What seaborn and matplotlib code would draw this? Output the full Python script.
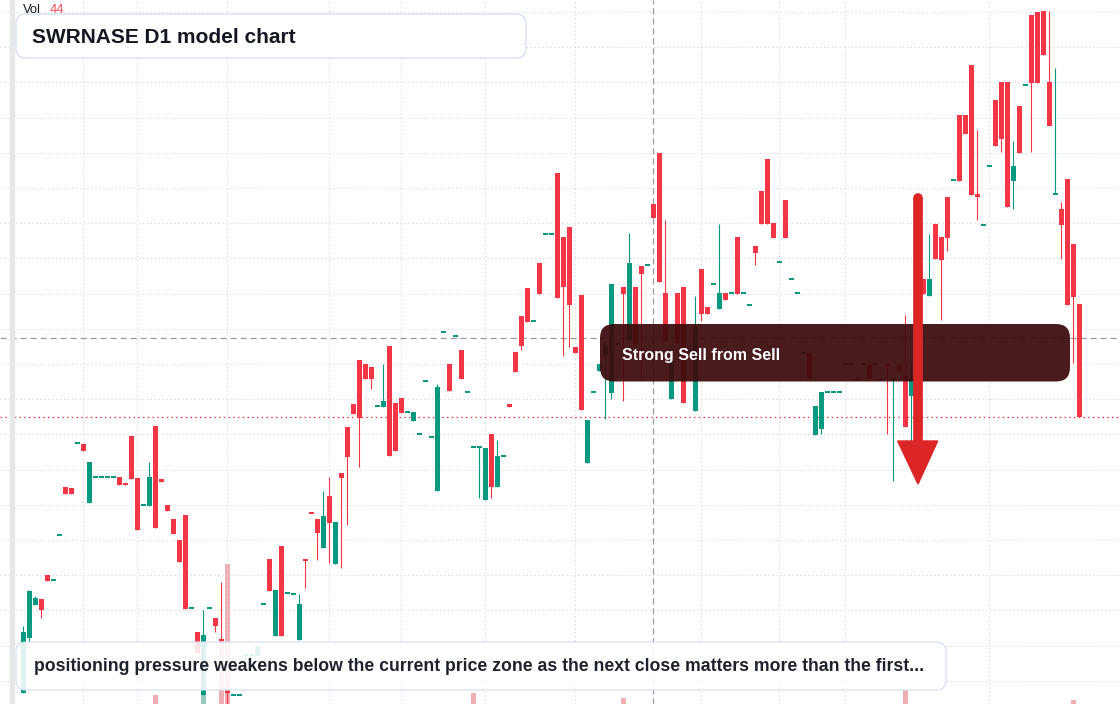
import numpy as np
import pandas as pd
import matplotlib
matplotlib.use("Agg")
import matplotlib.pyplot as plt
from matplotlib.patches import FancyBboxPatch, Polygon, Rectangle
from matplotlib.lines import Line2D
from matplotlib.transforms import IdentityTransform
import seaborn as sns

# daily candles, oldest first (price units)
opens = [10.7, 16.23, 19.53, 20.1, 22.5, 21.97, 26.47, 31.27, 31.2, 35.67,
         35.6, 29.7, 32.27, 32.27, 32.27, 32.27, 32.27, 31.6, 36.4, 32.2,
         29.47, 29.43, 37.4, 32.1, 29.47, 28.1, 26.0, 28.5, 19.17, 16.8,
         10.5, 19.17, 18.2, 16.1, 11.0, 10.5, 10.5, 14.5, 14.5, 14.4,
         19.57, 24.1, 16.43, 25.4, 20.67, 20.57, 16.03, 24.1, 28.7, 28.1,
         25.23, 30.4, 23.63, 32.67, 37.3, 39.6, 44.0, 43.6, 43.3, 39.37,
         39.3, 45.4, 39.7, 40.2, 38.77, 37.9, 36.57, 41.87, 36.27, 30.9,
         46.77, 43.6, 46.37, 45.0, 40.77, 35.27, 35.27, 30.0, 36.6, 31.3,
         34.37, 39.57, 44.8, 48.4, 51.2, 47.87, 53.7, 56.57, 56.57, 62.7,
         56.3, 57.3, 45.3, 50.5, 33.73, 40.77, 42.93, 44.5, 40.7, 45.6,
         51.3, 46.0, 51.3, 53.4, 53.47, 59.6, 64.7, 50.7, 40.13, 50.7,
         51.3, 45.0, 38.93, 53.1, 49.3, 51.57, 49.13, 50.7, 50.67, 56.3,
         50.67, 49.47, 55.4, 60.9, 64.1, 57.7, 53.77, 60.0, 52.07, 50.67,
         44.67, 44.7, 36.5, 37.1, 40.77, 40.77, 40.77, 43.6, 43.6, 42.1,
         43.6, 43.6, 43.6, 42.1, 43.6, 42.1, 43.6, 42.43, 40.43, 52.0,
         52.1, 50.43, 57.6, 56.3, 60.3, 61.97, 68.5, 68.5, 73.5, 60.6,
         57.47, 63.37, 70.0, 71.8, 71.8, 61.93, 69.4, 71.47, 78.5, 78.8,
         78.9, 71.8, 60.6, 59.1, 62.1, 55.6, 49.6]
highs = [17.4, 21.0, 20.4, 20.1, 22.5, 21.97, 26.47, 31.27, 31.2, 35.67,
         35.6, 33.8, 32.27, 32.27, 32.27, 32.27, 32.27, 31.6, 36.4, 32.2,
         29.47, 33.8, 37.4, 32.1, 29.47, 28.1, 26.0, 28.5, 19.17, 16.8,
         19.0, 19.17, 18.2, 21.77, 11.0, 10.5, 10.5, 14.5, 14.5, 15.4,
         19.57, 24.1, 21.0, 25.4, 20.67, 20.57, 20.57, 24.1, 28.7, 28.1,
         30.9, 32.3, 27.8, 32.67, 37.3, 39.6, 44.0, 43.6, 43.3, 39.37,
         43.6, 45.4, 39.7, 40.2, 38.77, 38.8, 36.57, 41.87, 36.27, 41.57,
         46.77, 43.6, 46.37, 45.0, 40.77, 35.27, 35.27, 35.2, 36.6, 36.0,
         34.37, 39.57, 44.8, 48.4, 51.2, 47.87, 53.7, 56.57, 56.57, 62.7,
         56.3, 57.3, 45.3, 50.5, 38.0, 40.77, 43.6, 45.9, 51.6, 45.6,
         51.3, 56.7, 51.3, 53.4, 53.47, 59.6, 64.7, 58.0, 43.7, 50.7,
         51.3, 45.0, 50.4, 53.1, 49.3, 51.57, 57.6, 50.7, 50.67, 56.3,
         50.67, 49.47, 55.4, 60.9, 64.1, 57.7, 53.77, 60.0, 52.07, 50.67,
         44.67, 44.7, 39.4, 40.8, 40.77, 40.77, 40.77, 43.6, 43.6, 42.1,
         43.6, 43.6, 43.6, 42.1, 43.6, 42.1, 43.6, 48.5, 43.6, 52.0,
         52.1, 56.6, 57.6, 56.3, 60.3, 61.97, 68.5, 68.5, 73.5, 67.0,
         57.47, 63.37, 70.0, 71.8, 71.8, 65.9, 69.4, 71.47, 78.5, 78.8,
         78.9, 78.9, 73.2, 59.8, 62.1, 55.6, 49.6]
lows = [10.7, 15.8, 19.53, 18.23, 21.93, 21.97, 26.47, 30.63, 30.63, 35.67,
        34.9, 29.7, 32.27, 32.27, 32.27, 32.27, 31.53, 31.53, 32.1, 27.03,
        29.47, 29.43, 27.23, 31.83, 28.93, 26.63, 23.83, 19.1, 19.17, 14.73,
        10.5, 19.17, 16.83, 15.9, 9.2, 10.5, 10.5, 14.0, 14.5, 14.4,
        19.57, 20.9, 16.43, 16.43, 20.67, 20.57, 16.03, 21.2, 28.67, 24.0,
        25.23, 23.73, 23.63, 23.23, 27.5, 38.63, 33.33, 42.1, 41.1, 39.37,
        39.3, 34.43, 34.9, 38.7, 38.77, 37.9, 36.57, 41.87, 36.27, 30.9,
        46.77, 40.9, 46.37, 42.1, 40.77, 35.27, 30.2, 30.0, 30.2, 31.3,
        34.37, 39.3, 42.8, 45.0, 47.8, 47.87, 50.63, 56.57, 56.57, 50.2,
        44.4, 45.3, 44.7, 39.0, 33.73, 40.77, 42.93, 38.1, 40.13, 45.6,
        39.93, 46.0, 45.5, 42.0, 53.47, 58.23, 51.8, 45.9, 40.13, 45.7,
        39.73, 45.0, 38.93, 47.93, 48.63, 51.57, 49.13, 50.03, 50.67, 50.63,
        50.67, 49.47, 53.5, 57.63, 57.63, 56.23, 53.77, 56.23, 52.07, 50.67,
        44.67, 42.13, 36.5, 36.6, 40.77, 40.77, 40.77, 43.6, 43.6, 42.1,
        43.6, 42.1, 43.6, 42.1, 36.6, 31.9, 42.83, 37.33, 35.83, 50.0,
        50.63, 50.43, 54.13, 48.0, 54.93, 61.97, 61.93, 66.63, 60.53, 58.0,
        57.47, 63.37, 65.43, 64.83, 59.33, 59.13, 64.73, 71.47, 64.83, 71.73,
        74.53, 67.43, 60.6, 54.13, 49.53, 43.73, 38.27]
closes = [16.8, 20.9, 20.2, 19.03, 21.93, 21.97, 26.47, 30.63, 30.63, 35.67,
          34.9, 33.8, 32.27, 32.27, 32.27, 32.27, 31.53, 31.53, 32.1, 27.03,
          29.47, 32.3, 27.23, 31.83, 28.93, 26.63, 23.83, 19.1, 19.17, 14.73,
          16.5, 19.17, 17.43, 15.9, 10.7, 10.5, 10.5, 14.5, 14.5, 15.4,
          19.57, 20.9, 21.0, 16.43, 20.67, 20.57, 19.6, 24.0, 28.67, 26.67,
          28.4, 27.73, 27.8, 32.23, 34.33, 38.63, 38.23, 42.1, 42.1, 39.37,
          39.9, 34.43, 34.9, 38.7, 38.77, 38.8, 36.57, 41.87, 36.27, 41.3,
          46.77, 40.9, 46.37, 42.1, 40.77, 35.27, 35.27, 35.2, 31.3, 34.4,
          34.37, 39.3, 42.8, 45.4, 47.8, 47.87, 50.63, 56.57, 56.57, 50.2,
          51.3, 49.5, 44.7, 39.0, 38.0, 40.77, 43.6, 45.5, 51.6, 45.6,
          50.63, 53.7, 45.5, 52.63, 53.47, 58.23, 51.8, 45.9, 43.7, 45.7,
          39.73, 45.0, 47.3, 48.63, 48.63, 51.57, 50.7, 50.03, 50.67, 50.63,
          50.67, 49.47, 54.73, 57.63, 57.63, 56.23, 53.77, 56.23, 52.07, 50.67,
          44.67, 42.13, 39.4, 40.8, 40.77, 40.77, 40.77, 43.6, 43.6, 42.1,
          43.6, 42.1, 43.6, 42.1, 43.5, 42.1, 42.83, 37.33, 42.1, 50.0,
          50.63, 52.1, 54.13, 54.03, 56.23, 61.97, 61.93, 66.63, 60.53, 60.33,
          57.47, 63.37, 65.43, 66.13, 59.33, 63.4, 64.73, 71.47, 71.73, 71.73,
          74.53, 67.43, 60.6, 57.53, 49.53, 50.33, 38.27]

# volume only shows on a handful of sessions
volume = [0] * 177
volume[22] = 900
volume[30] = 4900
volume[33] = 6400
volume[34] = 14000
volume[75] = 1100
volume[100] = 600
volume[147] = 1400
volume[175] = 400
volume[176] = 44

month_starts = [10, 19, 34, 51, 63, 77, 92, 113, 126, 137, 161]
crosshair_bar = 105
crosshair_price = 46.17

title = "SWRNASE D1 model chart"
signal = "Strong Sell from Sell"
note = ("positioning pressure weakens below the current price zone as the "
        "next close matters more than the first...")

GREEN = "#089981"
RED = "#f23645"
W, H = 1120, 704

sns.set_theme(style="white")
plt.rcParams["font.family"] = ["Liberation Sans", "DejaVu Sans"]

o = np.array(opens)
c = np.array(closes)
idx = np.arange(len(o))
up = c >= o

prev_c = np.concatenate([[c[0]], c[:-1]])
vol_dir = np.where((c < o) | ((c == o) & (c < prev_c)), "down", "up")
vol_df = pd.DataFrame({"idx": idx, "vol": volume, "dir": vol_dir})

fig = plt.figure(figsize=(W / 100, H / 100), dpi=100, facecolor="white")
ax = fig.add_axes([0, 0, 1, 1])
ax2 = ax.twinx()
ax.set_zorder(2)
ax2.set_zorder(1)
ax.patch.set_visible(False)

# volume pane
sns.barplot(data=vol_df, x="idx", y="vol", hue="dir", palette={"up": GREEN, "down": RED},
            native_scale=True, dodge=False, errorbar=None, width=0.8, alpha=0.45,
            linewidth=0, legend=False, ax=ax2)
ax2.set_ylim(0, 70400)
ax2.set_axis_off()

# candles
body_lo = np.minimum(o, c)
body_h = np.abs(c - o)
min_h = 0.2
thin = body_h < min_h
body_lo = np.where(thin, (o + c) / 2 - min_h / 2, body_lo)
body_h = np.maximum(body_h, min_h)
cols = np.where(up, GREEN, RED)
ax.vlines(idx, lows, highs, colors=cols, linewidth=0.8, zorder=4)
ax.bar(idx, body_h, bottom=body_lo, width=0.8, color=cols, linewidth=0, zorder=5)

# grid, crosshair, last price
grid_levels = 36.57 + 3.52 * np.arange(-8, 13)
ax.set_yticks(grid_levels)
ax.set_xticks(month_starts)
ax.grid(True, color="#d6d8dd", linestyle=(0, (1.2, 2.6)), linewidth=0.75, zorder=0)
ax.tick_params(left=False, bottom=False, labelleft=False, labelbottom=False)
for s in ax.spines.values():
    s.set_visible(False)
ax.axvline(crosshair_bar, color="#9a9ca3", linestyle=(0, (5, 3)), linewidth=0.9, zorder=2)
ax.axhline(crosshair_price, color="#9a9ca3", linestyle=(0, (5, 3)), linewidth=0.9, zorder=2)
ax.axhline(c[-1], color=RED, linestyle=(0, (1.2, 2.6)), linewidth=0.9, zorder=3)

ax.set_xlim(-23.3 / 6, (W - 23.3) / 6)
ax.set_ylim(9.6, 80.0)

# overlays in pixel space (origin top-left)
px = IdentityTransform()


def box(x0, y0, x1, y1, r, **kw):
    p = FancyBboxPatch((x0, H - y1), x1 - x0, y1 - y0,
                       boxstyle=f"round,pad=0,rounding_size={r}", transform=px, **kw)
    fig.patches.append(p)


fig.patches.append(Rectangle((9.5, 0), 4.5, H, transform=px, color="#e6e7e9", zorder=8))

box(16, 14, 526, 58, 10, facecolor="white", alpha=0.96, edgecolor="#d3e0f3",
    linewidth=1.0, zorder=10)
box(16, 642, 946, 690, 10, facecolor="white", alpha=0.88, edgecolor="#d3e0f3",
    linewidth=1.0, zorder=10)
box(600, 324, 1070, 381.5, 14, facecolor="#3c090b", alpha=0.93, edgecolor="none", zorder=10)

fig.lines.append(Line2D([917.5, 917.5], [H - 198, H - 443], transform=px, color="#dc2626",
                        linewidth=7.0, solid_capstyle="round", zorder=12))
fig.patches.append(Polygon([(897.7, H - 441), (937.7, H - 441), (918, H - 484)],
                           closed=True, transform=px, color="#dc2626", zorder=12))

fig.text(23.3 / W, 1 - 13 / H, "Vol", fontsize=9.3, color="#131722", va="baseline", zorder=20)
fig.text(49.3 / W, 1 - 13 / H, "44", fontsize=9.3, color="#f7525f", va="baseline", zorder=20)
fig.text(32.3 / W, 1 - 43.3 / H, title, fontsize=15, fontweight="bold", color="#131722",
         va="baseline", zorder=20)
fig.text(622.3 / W, 1 - 360 / H, signal, fontsize=11.5, fontweight="bold", color="white",
         va="baseline", zorder=20)
fig.text(34 / W, 1 - 671 / H, note, fontsize=12.7, fontweight="bold", color="#1e222d",
         va="baseline", zorder=20)

fig.savefig("out.png", dpi=100)
